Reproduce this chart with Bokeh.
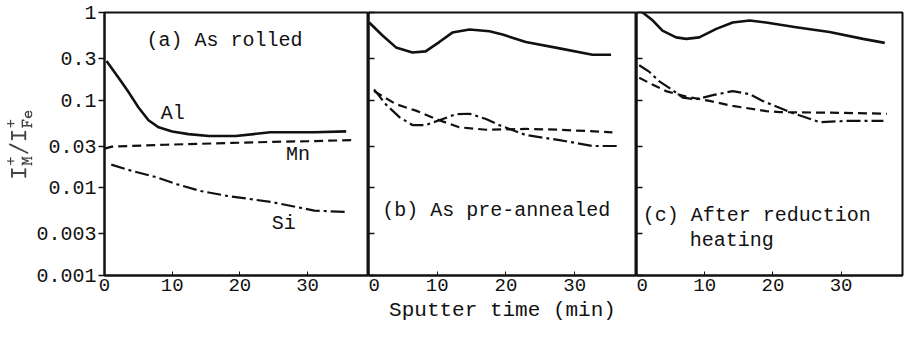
from bokeh.plotting import figure
from bokeh.layouts import row
from bokeh.models import Range1d, FixedTicker, Label
from bokeh.embed import file_html
from bokeh.resources import INLINE

# ---------------- data ----------------
y_ticks = [0.001, 0.003, 0.01, 0.03, 0.1, 0.3, 1]
y_tick_labels = ["0.001", "0.003", "0.01", "0.03", "0.1", "0.3", "1"]
x_ticks = [0, 10, 20, 30]

# (a) As rolled
t_al_a = [0.3, 2.1, 3.6, 5.0, 6.5, 8.0, 10.0, 12.4, 15.4, 19.4, 24.5, 31, 35.7]
al_a = [0.28, 0.179, 0.122, 0.083, 0.059, 0.049, 0.044, 0.041, 0.039, 0.039, 0.043, 0.043, 0.044]
t_mn_a = [0, 1.1, 9, 18.8, 25, 30, 36.5]
mn_a = [0.028, 0.0295, 0.031, 0.0325, 0.0335, 0.034, 0.035]
t_si_a = [1, 4.3, 7.7, 10.7, 14.2, 18.1, 24.6, 31, 35.7]
si_a = [0.0184, 0.0154, 0.0132, 0.011, 0.0092, 0.0081, 0.0069, 0.0055, 0.0053]

# (b) As pre-annealed
t_al_b = [0.1, 2.0, 4.0, 6.4, 8.3, 10.3, 12.2, 14.7, 17.6, 19.5, 22.9, 27.8, 32.6, 35.3]
al_b = [0.77, 0.55, 0.40, 0.35, 0.36, 0.46, 0.59, 0.64, 0.61, 0.56, 0.46, 0.39, 0.33, 0.33]
t_mn_b = [0.8, 4.0, 6.9, 9.8, 13.2, 17.1, 22.9, 27.8, 35.5]
mn_b = [0.127, 0.090, 0.076, 0.061, 0.049, 0.046, 0.047, 0.046, 0.043]
t_si_b = [0.8, 2.5, 4.5, 6.4, 8.3, 10.3, 12.7, 14.7, 17.1, 19.0, 22.9, 27.8, 32.6, 36.2]
si_b = [0.133, 0.090, 0.064, 0.052, 0.052, 0.059, 0.069, 0.070, 0.061, 0.052, 0.040, 0.035, 0.030, 0.030]

# (c) After reduction heating
t_al_c = [0.9, 2.4, 3.8, 5.8, 7.3, 9.2, 11.7, 14.1, 16.6, 19.0, 23.4, 28.3, 33.2, 36.4]
al_c = [1.0, 0.81, 0.62, 0.52, 0.50, 0.52, 0.65, 0.77, 0.81, 0.77, 0.68, 0.60, 0.50, 0.45]
t_mn_c = [0.4, 2.4, 4.3, 7.3, 10.7, 14.1, 19.0, 21.0, 28.3, 36.7]
mn_c = [0.18, 0.15, 0.127, 0.11, 0.098, 0.086, 0.075, 0.073, 0.072, 0.070]
t_si_c = [0.4, 1.9, 3.3, 4.8, 6.8, 8.7, 11.2, 14.1, 16.6, 18.5, 22.5, 26.9, 30.8, 36.2]
si_c = [0.25, 0.21, 0.165, 0.138, 0.107, 0.102, 0.114, 0.127, 0.117, 0.098, 0.073, 0.056, 0.058, 0.058]

FONT = "Liberation Mono"
INK = "#111111"
HEIGHT = 324
TOP = 12
BOTTOM = 49


def make_fig(width, left_border, right_border, show_ylabels):
    p = figure(width=width, height=HEIGHT,
               x_range=Range1d(0, 39), y_range=Range1d(0.001, 1),
               y_axis_type="log", output_backend="svg", toolbar_location=None,
               min_border_left=left_border, min_border_right=right_border,
               min_border_top=TOP, min_border_bottom=BOTTOM)
    p.background_fill_color = "white"
    p.border_fill_color = "white"
    p.outline_line_color = INK
    p.outline_line_width = 2
    p.xgrid.visible = False
    p.ygrid.visible = False

    xa = p.xaxis[0]
    xa.ticker = FixedTicker(ticks=x_ticks)
    xa.axis_line_color = INK
    xa.axis_line_width = 2
    xa.major_tick_in = 4
    xa.major_tick_out = 0
    xa.major_tick_line_color = INK
    xa.minor_tick_line_color = None
    xa.major_label_text_font = FONT
    xa.major_label_text_font_size = "19px"
    xa.major_label_text_color = INK
    xa.major_label_standoff = 3

    ya = p.yaxis[0]
    ya.ticker = FixedTicker(ticks=y_ticks)
    ya.axis_line_color = INK
    ya.axis_line_width = 2
    ya.minor_tick_line_color = None
    ya.major_tick_line_color = INK
    ya.major_tick_line_width = 1.5
    if show_ylabels:
        ya.major_tick_in = 0
        ya.major_tick_out = 6
        ya.major_label_overrides = dict(zip(y_ticks, y_tick_labels))
        ya.major_label_text_font = FONT
        ya.major_label_text_font_size = "20px"
        ya.major_label_text_color = INK
        ya.major_label_standoff = 2
    else:
        ya.major_tick_in = 6
        ya.major_tick_out = 0
        ya.major_label_text_color = None
        ya.major_label_text_font_size = "0px"
        ya.major_label_standoff = 0
    return p


def draw(p, t_al, al, t_mn, mn, t_si, si):
    p.line(t_al, al, line_color=INK, line_width=2.6, line_join="round")
    p.line(t_mn, mn, line_color=INK, line_width=2.2, line_dash="9 5")
    p.line(t_si, si, line_color=INK, line_width=2.2, line_dash="14 4 3 4")


def add_text(p, x, y, text, size="20px"):
    p.add_layout(Label(x=x, y=y, text=text, text_font=FONT, text_font_size=size,
                       text_color=INK, text_baseline="middle", text_align="left"))


pa = make_fig(368, 104, 0, True)
draw(pa, t_al_a, al_a, t_mn_a, mn_a, t_si_a, si_a)
pa.yaxis[0].axis_label = r"$$\mathtt{I_M^+/I_{Fe}^+}$$"
pa.yaxis[0].axis_label_text_font_size = "20px"
pa.yaxis[0].axis_label_standoff = 1
add_text(pa, 6.2, 0.48, "(a) As rolled")
add_text(pa, 8.3, 0.07, "Al")
add_text(pa, 26.8, 0.024, "Mn")
add_text(pa, 24.7, 0.0039, "Si")

pb = make_fig(268, 0, 0, False)
draw(pb, t_al_b, al_b, t_mn_b, mn_b, t_si_b, si_b)
pb.xaxis[0].axis_label = "Sputter time (min)"
pb.xaxis[0].axis_label_text_font = FONT
pb.xaxis[0].axis_label_text_font_size = "21px"
pb.xaxis[0].axis_label_text_font_style = "normal"
pb.xaxis[0].axis_label_text_color = INK
pb.xaxis[0].axis_label_standoff = 5
add_text(pb, 2.0, 0.0055, "(b) As pre-annealed")

pc = make_fig(270, 0, 4, False)
draw(pc, t_al_c, al_c, t_mn_c, mn_c, t_si_c, si_c)
add_text(pc, 0.9, 0.0048, "(c) After reduction")
add_text(pc, 7.8, 0.0025, "heating")

layout = row(pa, pb, pc)

open("out.html", "w").write(file_html(layout, INLINE))
